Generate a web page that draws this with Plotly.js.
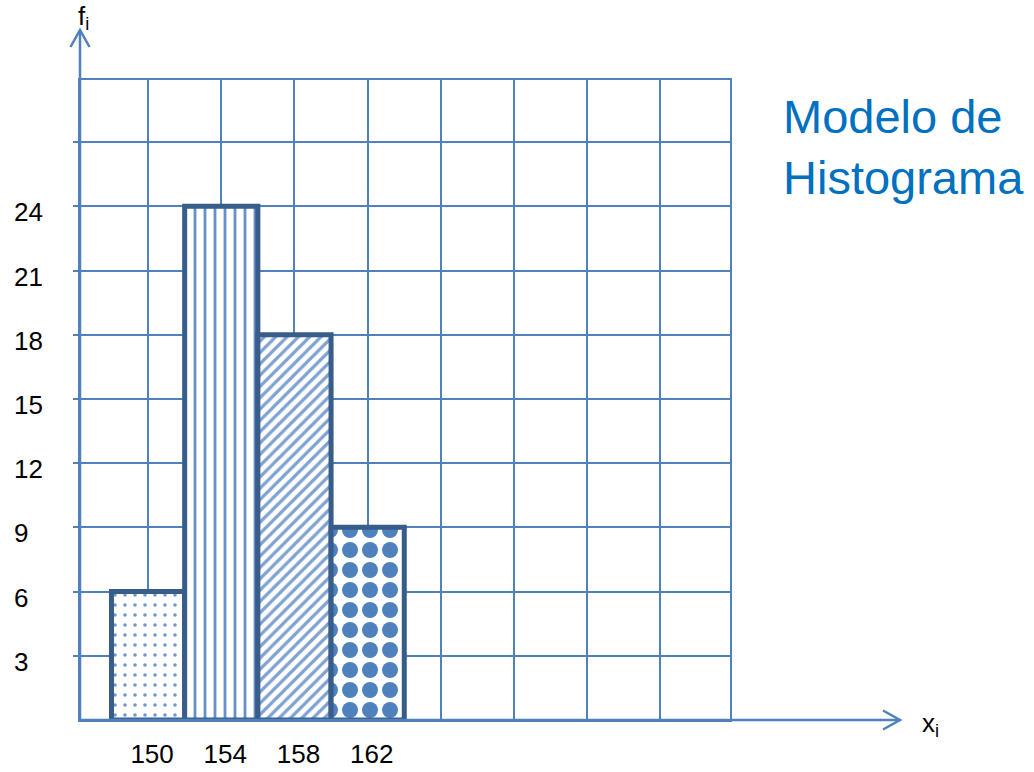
<!DOCTYPE html>
<html>
<head>
<meta charset="utf-8">
<script src="https://cdn.plot.ly/plotly-3.0.1.min.js"></script>
<style>html,body{margin:0;padding:0;background:#fff;}#chart{width:1034px;height:772px;}</style>
</head>
<body>
<div id="chart"></div>
<script>
// Data
const classMarks = [150, 154, 158, 162];
const frequencies = [6, 24, 18, 9];
const xTickVals = [150, 154, 158, 162];
const xTickText = ['150', '154', '158', '162'];
const xGridVals = [150, 154, 158, 162, 166, 170, 174, 178];
const yTickVals = [3, 6, 9, 12, 15, 18, 21, 24];
const yGridVals = [3, 6, 9, 12, 15, 18, 21, 24, 27];
const titleText = 'Modelo de<br>Histograma';
const xLabel = 'x<sub>i</sub>';
const yLabel = 'f<sub>i</sub>';

const gridBlue = '#4F81BD';
const font = 'Liberation Sans, Arial, sans-serif';

const trace = {
  type: 'bar',
  x: classMarks,
  y: frequencies,
  width: 4,
  marker: {
    color: '#ffffff',
    line: { color: '#385D8A', width: 5 },
    pattern: {
      shape: ['.', '|', '/', '.'],
      size: [10, 10, 8, 20],
      solidity: [0.1, 0.28, 0.4, 0.5],
      fgcolor: ['#6F97CE', '#6890C8', '#7FA2D0', '#4F81BD'],
      bgcolor: '#ffffff',
      fillmode: 'replace'
    }
  },
  hoverinfo: 'x+y'
};

const yLabelAnns = yTickVals.map(v => ({
  xref: 'paper', yref: 'y', x: -68 / 650, y: v, xanchor: 'left', yanchor: 'middle',
  yshift: -6, text: String(v), showarrow: false,
  font: { family: font, size: 26, color: '#000' }
}));

const yTip = 1 + 50 / 640;   // arrow tip of vertical axis (paper)
const xTip = 1 + 170 / 650;  // arrow tip of horizontal axis (paper)
const axisLine = { color: gridBlue, width: 2.5 };

const layout = {
  width: 1034, height: 772,
  margin: { l: 80, r: 304, t: 80, b: 52 },
  paper_bgcolor: '#fff', plot_bgcolor: '#fff',
  showlegend: false,
  xaxis: {
    range: [146.28, 181.8],
    tickvals: xTickVals, ticktext: xTickText,
    ticks: '', ticklabelstandoff: 10, ticklabelshift: 4,
    showgrid: true, gridcolor: gridBlue, gridwidth: 2,
    minor: { tickvals: xGridVals, showgrid: true, gridcolor: gridBlue, gridwidth: 2, ticks: '' },
    showline: true, mirror: true, linecolor: gridBlue, linewidth: 2,
    zeroline: false,
    tickfont: { family: font, size: 26, color: '#000' }
  },
  yaxis: {
    range: [0, 29.9],
    tickvals: yGridVals,
    ticks: 'outside', ticklen: 5, tickcolor: gridBlue, tickwidth: 2,
    showticklabels: false,
    showgrid: true, gridcolor: gridBlue, gridwidth: 2,
    showline: true, mirror: true, linecolor: gridBlue, linewidth: 2,
    zeroline: false
  },
  shapes: [
    { type: 'line', xref: 'paper', yref: 'paper', x0: 0, x1: 0, y0: 0, y1: yTip, line: axisLine, layer: 'above' },
    { type: 'line', xref: 'paper', yref: 'paper', x0: 0, x1: xTip, y0: 0, y1: 0, line: axisLine, layer: 'above' },
    { type: 'path', xref: 'paper', yref: 'paper', xsizemode: 'pixel', ysizemode: 'pixel',
      xanchor: 0, yanchor: yTip, path: 'M-9.5,-17L0,0L9.5,-17', line: axisLine, layer: 'above' },
    { type: 'path', xref: 'paper', yref: 'paper', xsizemode: 'pixel', ysizemode: 'pixel',
      xanchor: xTip, yanchor: 0, path: 'M-17,9.5L0,0L-17,-9.5', line: axisLine, layer: 'above' }
  ],
  annotations: [
    { xref: 'paper', yref: 'paper', x: 1 + 190 / 650, y: -4 / 640, xanchor: 'left', yanchor: 'middle',
      text: xLabel, showarrow: false, font: { family: font, size: 26, color: '#000' } },
    { xref: 'paper', yref: 'paper', x: -4 / 650, y: 1 + 62 / 640, xanchor: 'left', yanchor: 'middle',
      text: yLabel, showarrow: false, font: { family: font, size: 26, color: '#000' } },
    { xref: 'paper', yref: 'paper', x: 701 / 650, y: 1 - 8 / 640, xanchor: 'left', yanchor: 'top',
      align: 'left', text: titleText, showarrow: false,
      font: { family: font, size: 47, color: '#0070C0' } }
  ].concat(yLabelAnns)
};

Plotly.newPlot('chart', [trace], layout, { displayModeBar: false, staticPlot: true });
</script>
</body>
</html>
